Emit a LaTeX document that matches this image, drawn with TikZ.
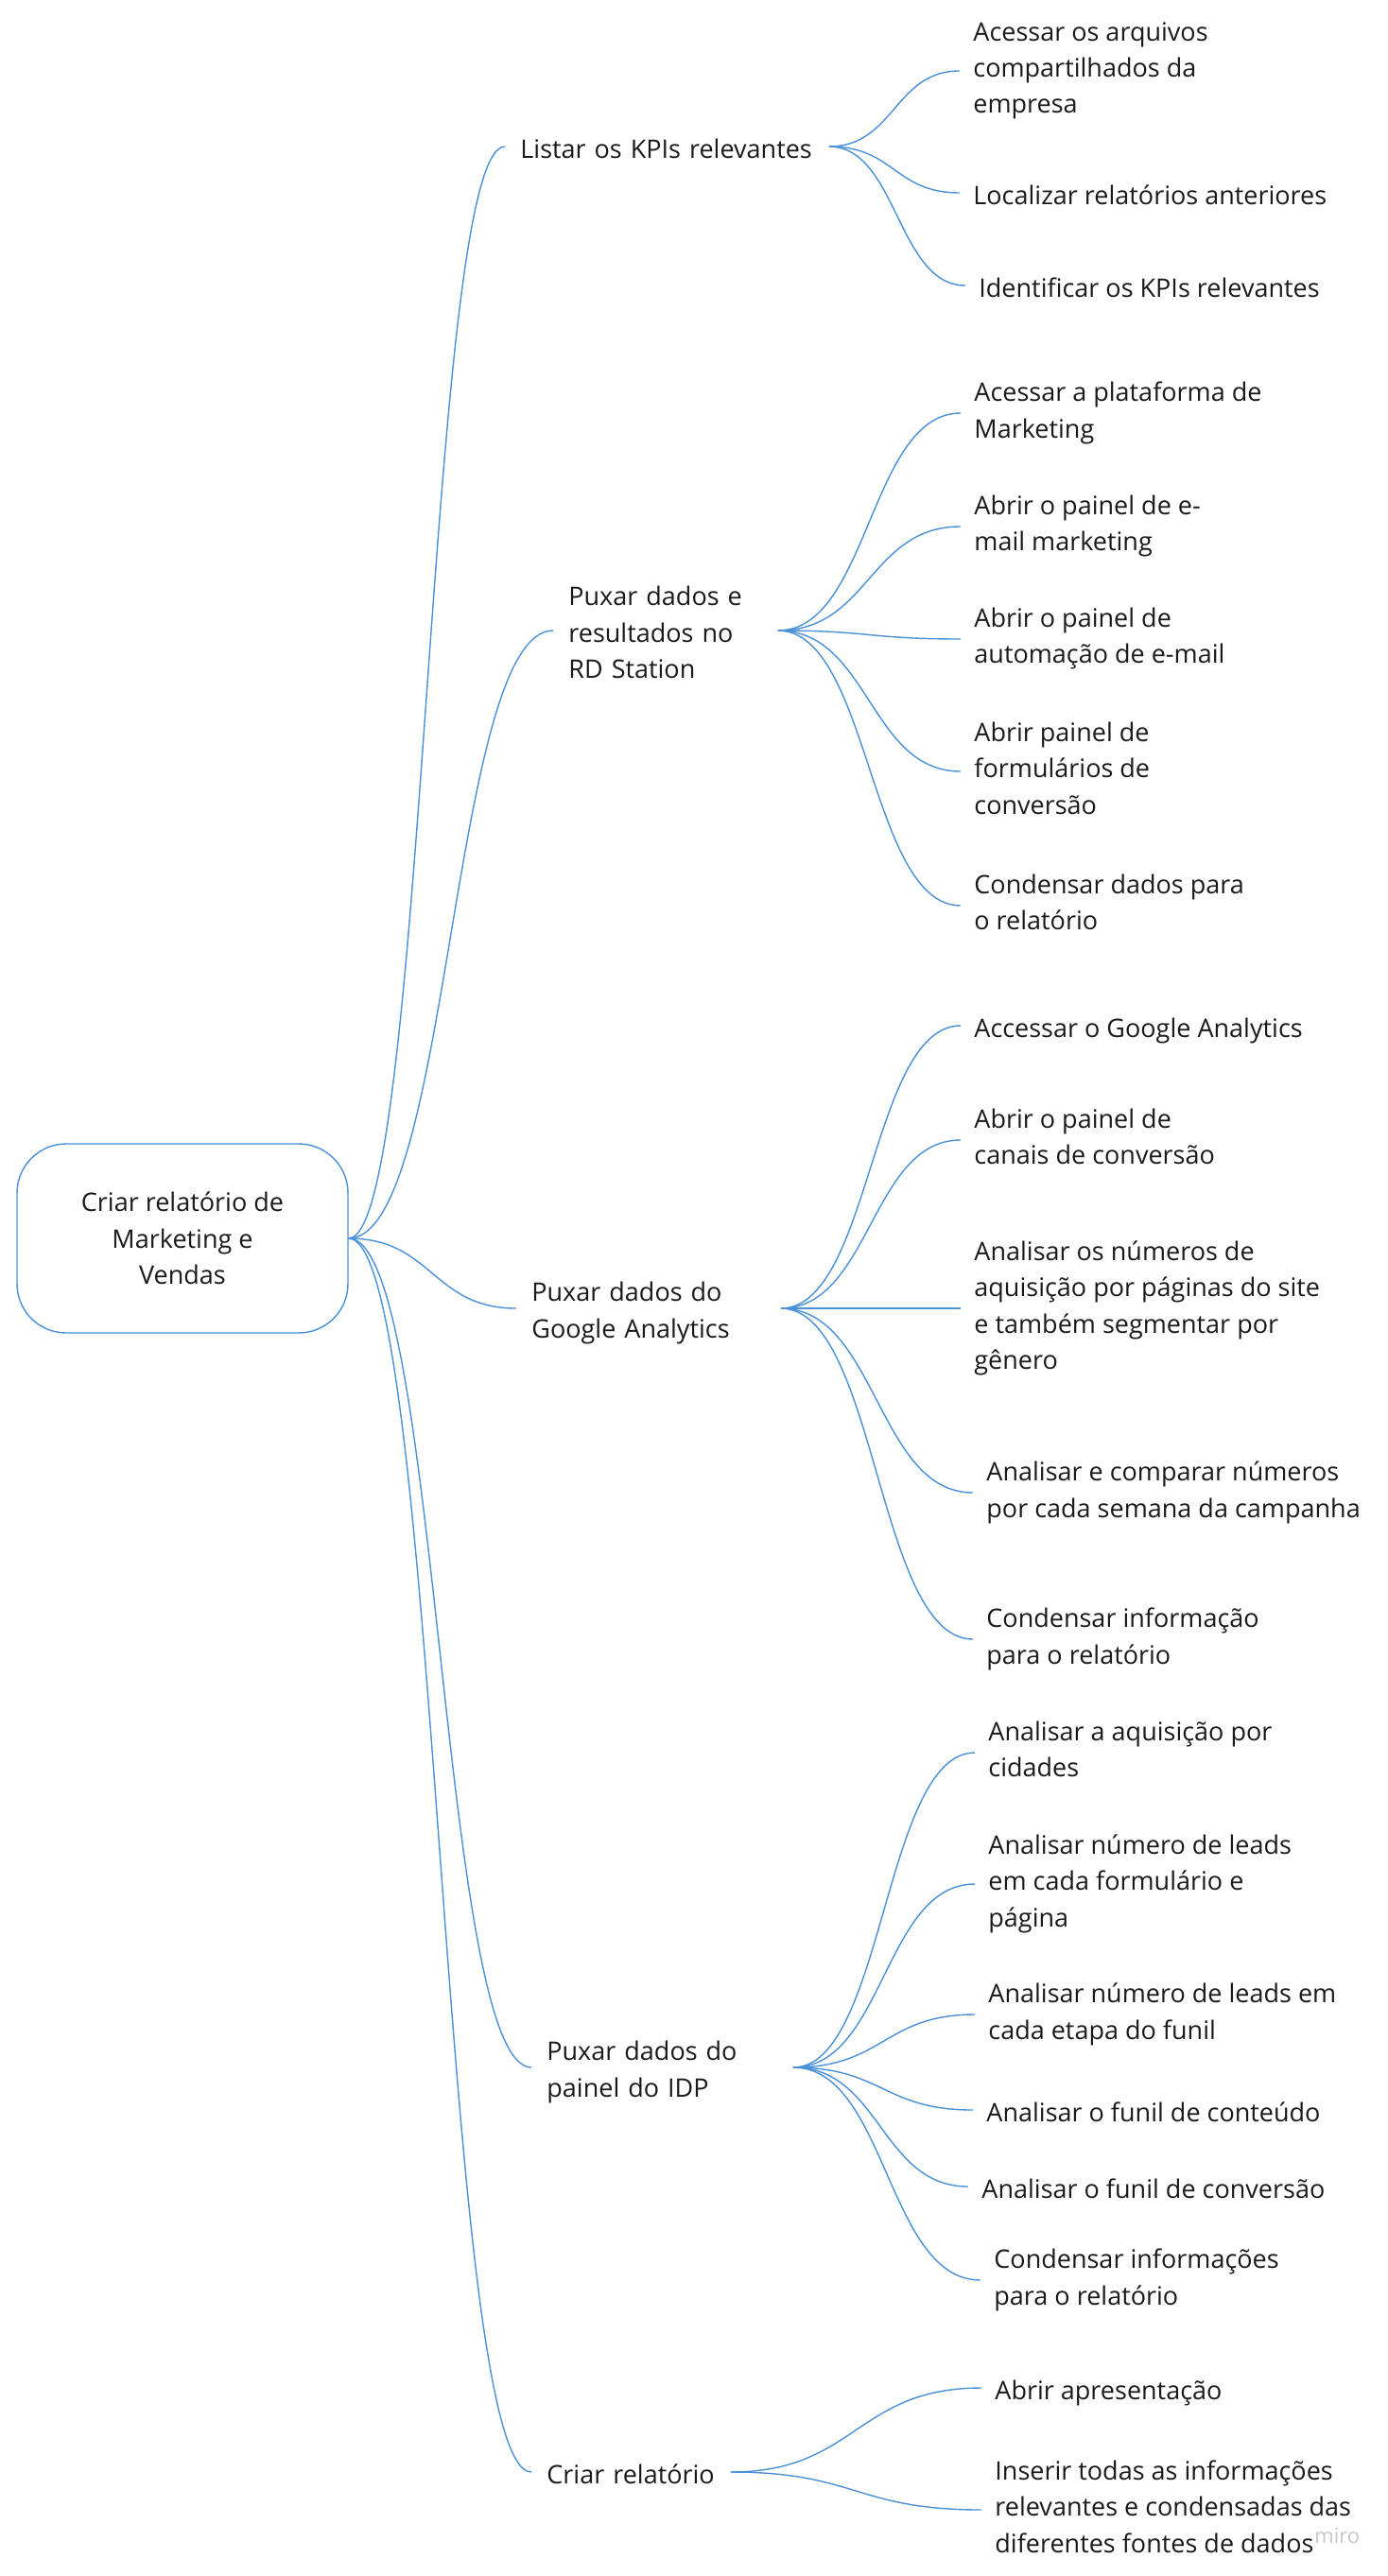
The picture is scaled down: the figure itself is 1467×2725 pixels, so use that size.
\documentclass[tikz,border=0pt]{standalone}
\usepackage{fontspec}
\setmainfont{Open Sans}
\usepackage{tikz}
\usetikzlibrary{calc}

\definecolor{mapblue}{HTML}{4A90D9}
\definecolor{maptext}{HTML}{1A1A1A}
\newcommand{\mapfont}{\fontsize{13.5pt}{19.2pt}\selectfont}
\newcommand{\topstrut}{\rule{0pt}{15.6pt}}
\newcommand{\botstrut}{\rule[-3.5pt]{0pt}{3.5pt}}

\begin{document}
\begin{tikzpicture}[x=0.5pt, y=-0.5pt,
  every node/.style={text=maptext, font=\mapfont},
  rootbox/.style={draw=mapblue, line width=0.7pt, rounded corners=26pt,
    minimum width=175pt, minimum height=100pt, align=center},
  topic/.style={anchor=west, align=left, inner xsep=8pt, inner ysep=0pt,
    execute at begin node=\topstrut, execute at end node=\botstrut},
  leaf/.style={anchor=west, align=left, inner xsep=7pt, inner ysep=0pt,
    execute at begin node=\topstrut, execute at end node=\botstrut},
  watermark/.style={text=black!22, font=\fontsize{11pt}{13pt}\selectfont,
    anchor=base west, inner sep=0pt},
  branch/.style={draw=mapblue, line width=0.7pt,
    to path={let \p1=(\tikztostart), \p2=(\tikztotarget) in
      .. controls ({0.5*\x1+0.5*\x2},\y1) and ({0.5*\x1+0.5*\x2},\y2) .. (\tikztotarget)}}
]
\useasboundingbox (0,0) rectangle (1467,2725);

% root
\node[rootbox] (root) at (193,1310) {Criar relatório de\\Marketing e\\Vendas};

% first level
\node[topic, text width=155pt] (kpi) at (534,155) {Listar os KPIs relevantes};
\node[topic, text width=102.5pt] (rd) at (585,667) {Puxar dados e\\resultados no\\RD Station};
\node[topic, text width=123.5pt] (ga) at (546,1384) {Puxar dados do\\Google Analytics};
\node[topic, text width=122pt] (idp) at (562,2187) {Puxar dados do\\painel do IDP};
\node[topic, text width=89pt] (rel) at (562,2615) {Criar relatório};

% KPI leaves
\node[leaf] (kpi1) at (1015,75) {Acessar os arquivos\\compartilhados da\\empresa};
\node[leaf] (kpi2) at (1015,204) {Localizar relatórios anteriores};
\node[leaf] (kpi3) at (1021,302) {Identificar os KPIs relevantes};

% RD Station leaves
\node[leaf] (rd1) at (1016,437) {Acessar a plataforma de\\Marketing};
\node[leaf] (rd2) at (1016,557) {Abrir o painel de e-\\mail marketing};
\node[leaf] (rd3) at (1016,676) {Abrir o painel de\\automação de e-mail};
\node[leaf] (rd4) at (1016,816) {Abrir painel de\\formulários de\\conversão};
\node[leaf] (rd5) at (1016,958) {Condensar dados para\\o relatório};

% Google Analytics leaves
\node[leaf] (ga1) at (1016,1085) {Accessar o Google Analytics};
\node[leaf] (ga2) at (1016,1206) {Abrir o painel de\\canais de conversão};
\node[leaf] (ga3) at (1016,1384) {Analisar os números de\\aquisição por páginas do site\\e também segmentar por\\gênero};
\node[leaf] (ga4) at (1029,1579) {Analisar e comparar números\\por cada semana da campanha};
\node[leaf] (ga5) at (1029,1734) {Condensar informação\\para o relatório};

% IDP leaves
\node[leaf] (idp1) at (1031,1854) {Analisar a aquisição por\\cidades};
\node[leaf] (idp2) at (1031,1993) {Analisar número de leads\\em cada formulário e\\página};
\node[leaf] (idp3) at (1031,2131) {Analisar número de leads em\\cada etapa do funil};
\node[leaf] (idp4) at (1029,2232) {Analisar o funil de conteúdo};
\node[leaf] (idp5) at (1024,2313) {Analisar o funil de conversão};
\node[leaf] (idp6) at (1037,2412) {Condensar informações\\para o relatório};

% report leaves
\node[leaf] (rel1) at (1038,2526) {Abrir apresentação};
\node[leaf] (rel2) at (1038,2655) {Inserir todas as informações\\relevantes e condensadas das\\diferentes fontes de dados};
\node[watermark] (miro) at (1390,2690) {miro};

\draw[branch] (root.east) to (kpi.west);
\draw[branch] (root.east) to (rd.west);
\draw[branch] (root.east) to (ga.west);
\draw[branch] (root.east) to (idp.west);
\draw[branch] (root.east) to (rel.west);

\draw[branch] (kpi.east) to (kpi1.west);
\draw[branch] (kpi.east) to (kpi2.west);
\draw[branch] (kpi.east) to (kpi3.west);

\draw[branch] (rd.east) to (rd1.west);
\draw[branch] (rd.east) to (rd2.west);
\draw[branch] (rd.east) to (rd3.west);
\draw[branch] (rd.east) to (rd4.west);
\draw[branch] (rd.east) to (rd5.west);

\draw[branch] (ga.east) to (ga1.west);
\draw[branch] (ga.east) to (ga2.west);
\draw[branch] (ga.east) to (ga3.west);
\draw[branch] (ga.east) to (ga4.west);
\draw[branch] (ga.east) to (ga5.west);

\draw[branch] (idp.east) to (idp1.west);
\draw[branch] (idp.east) to (idp2.west);
\draw[branch] (idp.east) to (idp3.west);
\draw[branch] (idp.east) to (idp4.west);
\draw[branch] (idp.east) to (idp5.west);
\draw[branch] (idp.east) to (idp6.west);

\draw[branch] (rel.east) to (rel1.west);
\draw[branch] (rel.east) to (rel2.west);
\end{tikzpicture}
\end{document}
